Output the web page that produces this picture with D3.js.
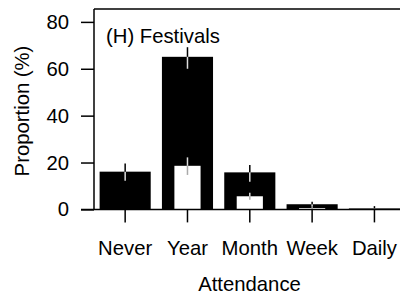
<!DOCTYPE html>
<html>
<head>
<meta charset="utf-8">
<script src="https://cdnjs.cloudflare.com/ajax/libs/d3/7.8.5/d3.min.js"></script>
<style>
  body { margin: 0; background: #fff; }
  text { font-family: "Liberation Sans", Arial, sans-serif; fill: #000; }
</style>
</head>
<body>
<svg id="chart"></svg>
<script>
const width = 400;
const height = 296;
const fontSize = '20.3px';

// attendance categories
const categories = ['Never', 'Year', 'Month', 'Week', 'Daily'];
// black bars (all respondents) with error range
const totalValues = [16.1, 65.1, 15.8, 2.2, 0.4];
const totalLow = [12.2, 60.0, 11.8, 1.1, 0.1];
const totalHigh = [19.6, 69.2, 18.9, 3.3, 1.4];
// white bars (subset) with error range
const subValues = [0, 18.6, 5.6, 0.6, 0];
const subLow = [0, 14.7, 4.1, 0.3, 0];
const subHigh = [0, 22.2, 7.1, 0.9, 0];
const yTicks = [0, 20, 40, 60, 80];

const plotLeft = 94, plotTop = 9, plotBottom = 209.4;

const svg = d3.select('#chart')
  .attr('width', width)
  .attr('height', height);

const x = d3.scaleBand().domain(categories).range([plotLeft, 405.6]).padding(0);
const y = d3.scaleLinear().domain([0, 85.5]).range([plotBottom, plotTop]);

const bw = x.bandwidth();
const cx = d => x(d) + bw / 2;

// black bars
svg.selectAll('.bar-total')
  .data(categories)
  .enter()
  .append('rect')
  .attr('x', (d) => cx(d) - bw * 0.41)
  .attr('width', bw * 0.82)
  .attr('y', (d, i) => y(totalValues[i]))
  .attr('height', (d, i) => plotBottom - y(totalValues[i]))
  .style('fill', '#000');

// white bars
svg.selectAll('.bar-sub')
  .data(categories)
  .enter()
  .append('rect')
  .attr('x', (d) => cx(d) - bw * 0.21)
  .attr('width', bw * 0.42)
  .attr('y', (d, i) => y(subValues[i]))
  .attr('height', (d, i) => plotBottom - y(subValues[i]))
  .style('fill', '#fff');

// error bars change colour with the background behind them
function errorSegments(i, lo, hi) {
  const cuts = [lo, hi, subValues[i], totalValues[i]]
    .filter(v => v >= lo && v <= hi)
    .sort((a, b) => a - b);
  const segs = [];
  for (let k = 0; k < cuts.length - 1; k++) {
    const a = cuts[k], b = cuts[k + 1];
    if (b - a <= 0) continue;
    const mid = (a + b) / 2;
    let col = '#000';
    if (mid < subValues[i]) col = '#aaa';
    else if (mid < totalValues[i]) col = '#ddd';
    segs.push({ cat: categories[i], a: a, b: b, col: col });
  }
  return segs;
}

let errs = [];
categories.forEach((c, i) => {
  errs = errs.concat(errorSegments(i, totalLow[i], totalHigh[i]));
  if (subValues[i] > 0) errs = errs.concat(errorSegments(i, subLow[i], subHigh[i]));
});

svg.selectAll('.err')
  .data(errs)
  .enter()
  .append('line')
  .attr('x1', d => cx(d.cat))
  .attr('x2', d => cx(d.cat))
  .attr('y1', d => y(d.a))
  .attr('y2', d => y(d.b))
  .style('stroke', d => d.col)
  .style('stroke-width', 1.5);

// box lines
svg.append('line')
  .attr('x1', plotLeft).attr('x2', width).attr('y1', plotTop).attr('y2', plotTop)
  .style('stroke', '#000').style('stroke-width', 1.5);
svg.append('line')
  .attr('x1', plotLeft).attr('x2', plotLeft).attr('y1', plotTop).attr('y2', plotBottom)
  .style('stroke', '#000').style('stroke-width', 1.5);
svg.append('line')
  .attr('x1', 81).attr('x2', width).attr('y1', plotBottom).attr('y2', plotBottom)
  .style('stroke', '#000').style('stroke-width', 1.5);

// axes
const yAxis = svg.append('g')
  .attr('transform', `translate(${plotLeft}, 0)`)
  .call(d3.axisLeft(y).tickValues(yTicks).tickSize(13).tickPadding(12));
const xAxis = svg.append('g')
  .attr('transform', `translate(0, ${plotBottom})`)
  .call(d3.axisBottom(x).tickSize(13).tickPadding(18));

[yAxis, xAxis].forEach(a => {
  a.select('.domain').remove();
  a.selectAll('line').style('stroke', '#000').style('stroke-width', 1.5);
  a.selectAll('text')
    .style('font-family', '"Liberation Sans", Arial, sans-serif')
    .style('font-size', fontSize)
    .style('fill', '#000');
});

svg.append('text')
  .attr('x', 106)
  .attr('y', 43)
  .style('font-size', fontSize)
  .text('(H) Festivals');

svg.append('text')
  .attr('x', 249.5)
  .attr('y', 291)
  .attr('text-anchor', 'middle')
  .style('font-size', fontSize)
  .text('Attendance');

svg.append('text')
  .attr('transform', 'translate(29, 111) rotate(-90)')
  .attr('text-anchor', 'middle')
  .style('font-size', fontSize)
  .text('Proportion (%)');
</script>
</body>
</html>
